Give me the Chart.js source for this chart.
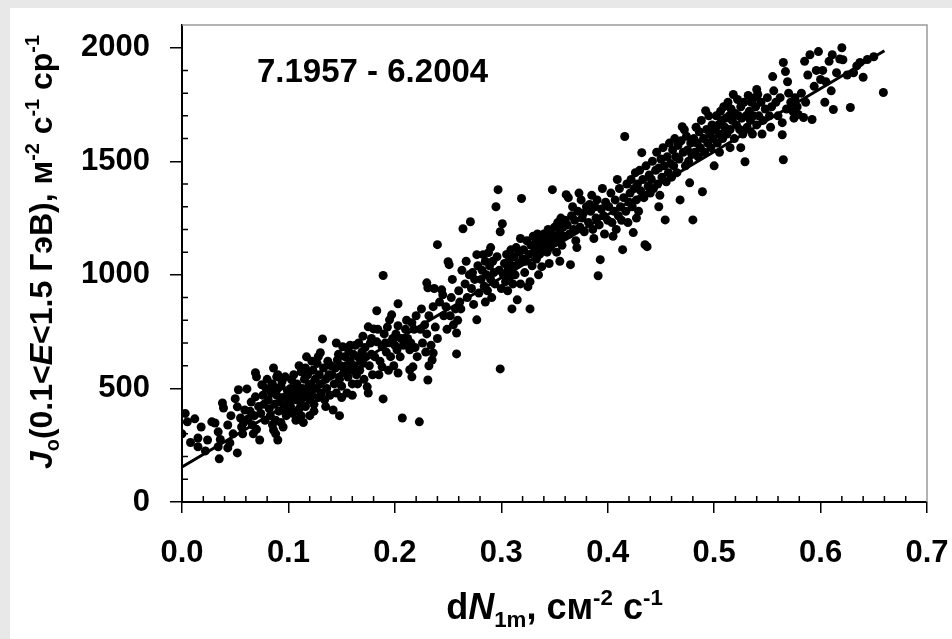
<!DOCTYPE html>
<html><head><meta charset="utf-8">
<script src="https://cdn.jsdelivr.net/npm/chart.js@4/dist/chart.umd.min.js"></script>
<style>html,body{margin:0;padding:0;background:#e8e8e8;overflow:hidden;}canvas{display:block;}</style>
</head><body><canvas id="c" width="952" height="639"></canvas>
<script>
const xTickValues=[0,0.1,0.2,0.3,0.4,0.5,0.6,0.7];
const yTickValues=[0,500,1000,1500,2000];
const periodLabel="7.1957 - 6.2004";
const fitLine=[[0,154],[0.66,1987]];
const bandA=[[0.000,300],[0.003,390],[0.005,353],[0.012,366],[0.015,282],[0.015,243],[0.018,330],[0.008,262],
[0.022,225],[0.024,273],[0.028,353],[0.031,348],[0.034,309],[0.034,243],[0.035,190],[0.036,275],[0.038,436],[0.039,414],
[0.043,238],[0.043,339],[0.045,260],[0.046,380],[0.048,300],[0.050,455],[0.052,216],[0.052,419],[0.053,494],[0.055,370],[0.056,330],[0.057,300],[0.058,350],[0.059,405]];
const bandB=[[0.061,498],[0.062,365],[0.064,400],[0.065,440],[0.066,340],[0.067,300],[0.068,380],[0.069,569],[0.069,463],[0.070,551],[0.070,320],[0.072,420],[0.073,273],[0.074,390],[0.075,516],[0.076,470],[0.077,430],[0.078,360],[0.079,500],[0.080,540],
[0.081,450],[0.082,410],[0.083,380],[0.083,500],[0.084,480],[0.085,520],[0.085,340],[0.086,590],[0.086,317],[0.087,430],[0.088,360],[0.088,300],[0.089,551],[0.089,470],[0.090,273],[0.090,500],[0.090,560],[0.091,400],[0.092,440],[0.093,350],[0.093,510],[0.094,530],[0.095,460],[0.095,330],[0.096,420],[0.097,551],[0.097,405],[0.098,380],[0.099,490],[0.100,450]];
const bandC=[[0.101,470],[0.102,420],[0.102,500],[0.103,538],[0.104,390],[0.105,500],[0.105,560],[0.106,450],[0.107,360],[0.107,470],[0.108,520],[0.108,400],[0.109,480],[0.110,410],[0.110,600],[0.111,440],[0.112,380],[0.112,573],[0.113,500],[0.114,460],[0.114,350],[0.115,540],[0.116,420],[0.116,590],[0.117,480],[0.117,639],[0.118,560],[0.119,510],[0.120,450],[0.120,380],
[0.121,520],[0.122,470],[0.122,620],[0.123,580],[0.124,430],[0.124,400],[0.125,540],[0.126,500],[0.127,610],[0.128,460],[0.128,640],[0.129,560],[0.130,520],[0.130,657],[0.131,480],[0.132,718],[0.133,590],[0.134,450],[0.135,540],[0.135,420],[0.136,500],[0.137,620],[0.138,560],[0.139,470],[0.140,600]];
const bandD=[[0.141,560],[0.142,405],[0.143,520],[0.144,590],[0.145,480],[0.145,700],[0.146,626],[0.147,650],[0.148,540],[0.148,380],[0.149,600],[0.150,510],[0.150,460],[0.151,683],[0.152,570],[0.153,640],[0.154,600],[0.155,679],[0.155,480],[0.156,550],[0.157,660],[0.158,620],[0.158,690],[0.159,580],[0.160,520],
[0.160,470],[0.161,650],[0.162,600],[0.163,690],[0.164,560],[0.165,640],[0.165,520],[0.166,700],[0.167,580],[0.168,620],[0.169,660],[0.170,610],[0.170,730],[0.171,540],[0.172,680],[0.173,640],[0.174,507],[0.175,771],[0.175,480],[0.176,600],[0.177,700],[0.178,650],[0.178,720],[0.179,560],[0.180,762],
[0.181,640],[0.183,842],[0.183,705],[0.184,760],[0.185,560],[0.186,620],[0.188,683],[0.188,595],[0.189,997],[0.189,454],[0.190,740],[0.191,700],[0.192,660],[0.193,770],[0.194,580],[0.195,802],[0.195,701],[0.196,640],[0.197,824],[0.198,720],[0.199,600],[0.200,690]];
const bandE=[[0.201,740],[0.202,670],[0.203,873],[0.203,776],[0.203,568],[0.205,639],[0.206,720],[0.207,370],[0.208,690],[0.210,760],[0.211,800],[0.212,720],[0.214,670],[0.214,582],[0.215,700],[0.216,789],[0.216,551],[0.217,595],[0.218,760],[0.219,680],[0.220,820],
[0.221,640],[0.223,353],[0.224,760],[0.225,850],[0.226,700],[0.228,780],[0.229,660],[0.230,740],[0.230,965],[0.231,943],[0.231,537],[0.232,820],[0.232,600],[0.234,690],[0.235,625],[0.236,656],[0.236,860],[0.237,940],[0.238,770],[0.240,720],[0.240,1133],
[0.242,880],[0.244,934],[0.245,912],[0.246,820],[0.248,860],[0.249,760],[0.250,1058],[0.251,1045],[0.252,820],[0.253,900],[0.254,980],[0.255,780],[0.257,850],[0.258,744],[0.258,652],[0.259,800],[0.260,930]];
const bandF=[[0.271,1234],[0.264,1203],[0.277,1089],[0.277,802],[0.263,1020],[0.266,960],[0.268,900],[0.270,1000],[0.272,940],[0.274,870],[0.275,980],[0.278,1040],[0.262,850],[0.267,1060],[0.273,1010],[0.279,920],[0.261,880],
[0.283,1089],[0.288,1098],[0.297,1375],[0.295,1300],[0.299,586],[0.299,1190],[0.281,980],[0.282,1020],[0.284,950],[0.285,1060],[0.286,1000],[0.287,930],[0.289,1040],[0.290,980],[0.291,900],[0.292,1060],[0.293,1010],[0.294,960],[0.296,1080],[0.298,1020],[0.300,940],[0.290,1120],[0.285,880],
[0.301,1225],[0.319,1336],[0.315,890],[0.302,1000],[0.303,1050],[0.304,970],[0.305,1090],[0.306,1020],[0.307,1060],[0.308,990],[0.309,1110],[0.310,1040],[0.311,960],[0.312,1080],[0.313,1000],[0.314,1120],[0.316,1050],[0.317,1100],[0.318,960],[0.320,1070],[0.310,850],[0.306,930],[0.318,1160],
[0.327,970],[0.325,948],[0.327,850],[0.338,1036],[0.321,1110],[0.323,1060],[0.324,1150],[0.326,1090],[0.328,1130],[0.329,1040],[0.330,1170],[0.331,1100],[0.332,1140],[0.333,1070],[0.334,1180],[0.335,1120],[0.336,1090],[0.337,1150],[0.339,1110],[0.340,1180],[0.322,1010],[0.335,1000]];
const bandG=[[0.348,1375],[0.341,1130],[0.342,1170],[0.343,1100],[0.344,1200],[0.345,1150],[0.346,1120],[0.347,1180],[0.349,1140],[0.350,1210],[0.351,1170],[0.352,1100],[0.353,1230],[0.354,1150],[0.355,1190],[0.356,1250],[0.357,1130],[0.358,1210],[0.359,1170],[0.360,1240],[0.345,1050],[0.355,1060],
[0.361,1353],[0.363,1340],[0.365,1045],[0.362,1220],[0.364,1180],[0.366,1260],[0.367,1300],[0.368,1200],[0.369,1240],[0.370,1150],[0.372,1280],[0.374,1210],[0.375,1330],[0.376,1250],[0.378,1190],[0.380,1300],[0.371,1120],[0.377,1270],[0.373,1360],
[0.393,1067],[0.391,996],[0.382,1230],[0.384,1280],[0.385,1350],[0.386,1200],[0.388,1300],[0.389,1250],[0.390,1330],[0.392,1220],[0.394,1290],[0.395,1380],[0.396,1260],[0.398,1320],[0.400,1240],[0.387,1160],[0.397,1180],[0.383,1310],
[0.416,1609],[0.414,1111],[0.401,1300],[0.403,1360],[0.404,1230],[0.406,1280],[0.407,1330],[0.408,1200],[0.410,1260],[0.411,1380],[0.412,1300],[0.413,1240],[0.415,1340],[0.417,1280],[0.418,1400],[0.420,1320],[0.405,1170],[0.419,1230],[0.409,1420],
[0.424,1186],[0.435,1133],[0.432,1538],[0.437,1124],[0.421,1360],[0.422,1420],[0.423,1300],[0.425,1380],[0.426,1450],[0.427,1330],[0.428,1400],[0.429,1280],[0.430,1460],[0.431,1370],[0.433,1420],[0.434,1340],[0.436,1480],[0.438,1390],[0.439,1440],[0.440,1360],[0.427,1250]];
const bandH=[[0.454,1242],[0.441,1420],[0.442,1500],[0.443,1380],[0.445,1460],[0.446,1540],[0.447,1400],[0.448,1470],[0.449,1350],[0.450,1510],[0.451,1430],[0.452,1560],[0.453,1480],[0.455,1410],[0.456,1520],[0.457,1450],[0.458,1580],[0.459,1490],[0.460,1430],[0.448,1300],
[0.470,1652],[0.472,1639],[0.477,1405],[0.468,1330],[0.480,1242],[0.461,1550],[0.462,1480],[0.463,1600],[0.464,1520],[0.465,1450],[0.466,1570],[0.467,1510],[0.469,1590],[0.471,1540],[0.473,1480],[0.474,1610],[0.475,1550],[0.476,1500],[0.478,1580],[0.479,1530],
[0.492,1723],[0.489,1366],[0.481,1600],[0.482,1540],[0.483,1650],[0.484,1580],[0.485,1520],[0.486,1630],[0.487,1560],[0.488,1680],[0.490,1600],[0.491,1540],[0.493,1640],[0.494,1580],[0.495,1700],[0.496,1620],[0.497,1560],[0.498,1660],[0.499,1600],[0.500,1480],
[0.518,1794],[0.501,1640],[0.502,1700],[0.503,1580],[0.504,1660],[0.505,1620],[0.506,1720],[0.507,1680],[0.508,1600],[0.509,1740],[0.510,1650],[0.511,1690],[0.512,1620],[0.513,1760],[0.514,1700],[0.515,1640],[0.516,1730],[0.517,1680],[0.519,1600],[0.520,1710],[0.505,1540],[0.515,1560],
[0.522,1772],[0.529,1498],[0.521,1660],[0.523,1700],[0.524,1640],[0.525,1740],[0.526,1690],[0.527,1620],[0.528,1760],[0.530,1700],[0.531,1650],[0.532,1790],[0.533,1720],[0.534,1680],[0.535,1760],[0.536,1620],[0.537,1700],[0.538,1780],[0.539,1740],[0.540,1660],[0.525,1560]];
const bandI=[[0.540,1816],[0.541,1794],[0.555,1873],[0.542,1700],[0.544,1760],[0.546,1680],[0.548,1730],[0.550,1780],[0.552,1700],[0.554,1740],[0.556,1810],[0.558,1760],[0.560,1700],[0.545,1620],[0.553,1650],
[0.565,1935],[0.567,1895],[0.564,1670],[0.564,1617],[0.565,1507],[0.579,1706],[0.569,1850],[0.570,1800],[0.572,1760],[0.574,1720],[0.576,1780],[0.578,1740],[0.562,1780],[0.568,1730],[0.575,1690],
[0.590,1969],[0.598,1983],[0.584,1693],[0.592,1684],[0.582,1800],[0.586,1760],[0.588,1880],[0.594,1830],[0.596,1900],[0.600,1860],[0.585,1940],
[0.611,1969],[0.620,2000],[0.612,1728],[0.602,1900],[0.605,1850],[0.608,1940],[0.615,1890],[0.618,1950],[0.610,1810],[0.604,1760],
[0.621,1947],[0.628,1737],[0.631,1890],[0.637,1935],[0.644,1948],[0.650,1960],[0.659,1803],[0.625,1880],[0.634,1920],[0.640,1870]];

const FONT='"Liberation Sans", Arial, sans-serif';
const allPts=[].concat(bandA,bandB,bandC,bandD,bandE,bandF,bandG,bandH,bandI).map(p=>({x:p[0],y:p[1]}));

function drawRich(ctx,segs,x,y,size){
  const sm=size*0.62;
  const fontFor=s=>(s.i?'italic ':'')+'bold '+((s.sub||s.sup)?sm:size)+'px '+FONT;
  let w=0;
  segs.forEach(s=>{ctx.font=fontFor(s);w+=ctx.measureText(s.t).width;});
  let cx=x-w/2;
  ctx.textBaseline='alphabetic';ctx.textAlign='left';ctx.fillStyle='#000';
  segs.forEach(s=>{ctx.font=fontFor(s);const dy=s.sub?size*0.22:(s.sup?-size*0.40:0);ctx.fillText(s.t,cx,y+dy);cx+=ctx.measureText(s.t).width;});
}
const yTitle=[{t:'J',i:1},{t:'o',sub:1},{t:'(0.1<'},{t:'E',i:1},{t:'<1.5 ГэВ), м'},{t:'-2',sup:1},{t:' с'},{t:'-1',sup:1},{t:' ср'},{t:'-1',sup:1}];
const xTitle=[{t:'d'},{t:'N',i:1},{t:'1m',sub:1},{t:', см'},{t:'-2',sup:1},{t:' с'},{t:'-1',sup:1}];

const deco={id:'deco',
 beforeDraw(chart){const c=chart.ctx;c.save();c.fillStyle='#fff';c.fillRect(10,8,942,631);c.restore();},
 afterDraw(chart){
  const c=chart.ctx,a=chart.chartArea,xs=chart.scales.x,ys=chart.scales.y;
  c.save();
  c.strokeStyle='#9a9a9a';c.lineWidth=1.5;
  c.beginPath();c.moveTo(a.left,a.top);c.lineTo(a.right,a.top);c.lineTo(a.right,a.bottom);c.stroke();
  c.strokeStyle='#000';c.lineWidth=1.5;c.beginPath();
  for(let k=1;k<35;k++){if(k%5===0)continue;const px=xs.getPixelForValue(k*0.02);c.moveTo(px,a.bottom);c.lineTo(px,a.bottom-6);}
  for(let k=1;k<21;k++){if(k%5===0)continue;const py=ys.getPixelForValue(k*100);c.moveTo(a.left,py);c.lineTo(a.left+6,py);}
  c.stroke();
  c.font='bold 33px '+FONT;c.fillStyle='#000';c.textAlign='left';c.textBaseline='alphabetic';
  c.fillText(periodLabel,257,82);
  drawRich(c,xTitle,(a.left+a.right)/2,619,36);
  c.translate(52,252);c.rotate(-Math.PI/2);
  drawRich(c,yTitle,0,0,32);
  c.restore();
 }};

new Chart(document.getElementById('c'),{
 type:'scatter',
 data:{datasets:[
  {data:allPts,pointRadius:4.5,pointBackgroundColor:'#000',pointBorderWidth:0,showLine:false,order:2},
  {type:'line',data:fitLine.map(p=>({x:p[0],y:p[1]})),borderColor:'#000',borderWidth:3,pointRadius:0,fill:false,order:1}
 ]},
 options:{responsive:false,animation:false,devicePixelRatio:1,
  layout:{padding:{top:25,right:25,left:0,bottom:0}},
  plugins:{legend:{display:false},tooltip:{enabled:false}},
  scales:{
   x:{type:'linear',min:0,max:0.7,
    afterBuildTicks:s=>{s.ticks=xTickValues.map(v=>({value:v}));},
    afterFit:s=>{s.height=137;s.paddingLeft=0;s.paddingRight=0;s.paddingTop=0;s.paddingBottom=0;},
    ticks:{callback:v=>Number(v).toFixed(1),font:{size:31,weight:'bold',family:FONT},color:'#000',padding:22,maxRotation:0,autoSkip:false},
    grid:{drawOnChartArea:false,tickLength:11,color:'#000',lineWidth:1.5},
    border:{color:'#000',width:2}},
   y:{type:'linear',min:0,max:2100,
    afterBuildTicks:s=>{s.ticks=yTickValues.map(v=>({value:v}));},
    afterFit:s=>{s.width=182;s.paddingLeft=0;s.paddingRight=0;s.paddingTop=0;s.paddingBottom=0;},
    ticks:{callback:v=>String(v),font:{size:31,weight:'bold',family:FONT},color:'#000',padding:20,autoSkip:false},
    grid:{drawOnChartArea:false,tickLength:12,color:'#000',lineWidth:1.5},
    border:{color:'#000',width:2}}
  }},
 plugins:[deco]
});
</script></body></html>
